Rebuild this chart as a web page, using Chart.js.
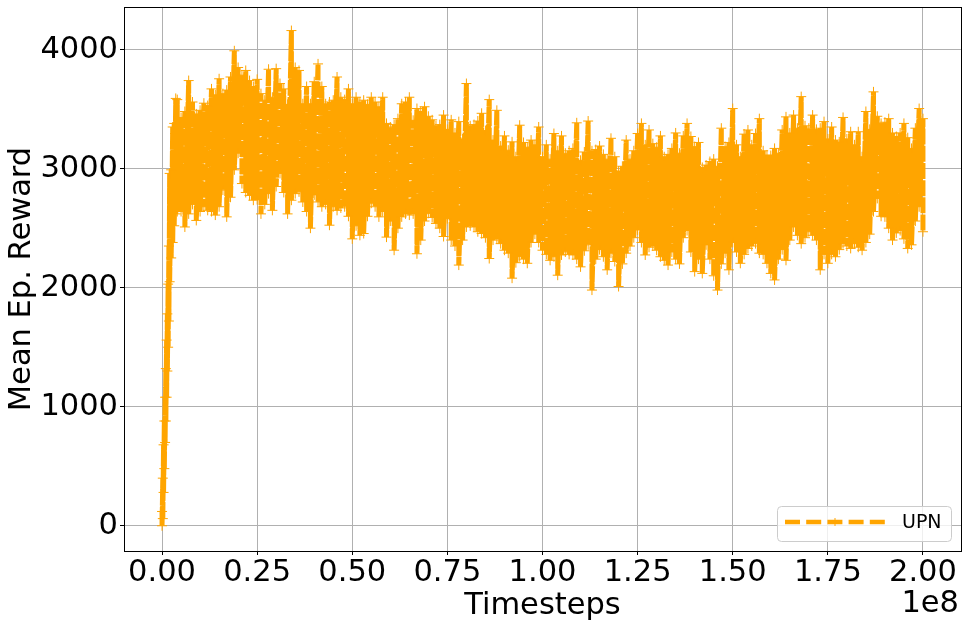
<!DOCTYPE html>
<html>
<head>
<meta charset="utf-8">
<title>UPN</title>
<script src="https://cdn.jsdelivr.net/npm/chart.js@4"></script>
<style>
body { margin: 0; background: #fff; }
canvas { display: block; }
</style>
</head>
<body>
<canvas id="mychart" width="967" height="627"></canvas>
<script>
// Axis ticks
var xTickValues = [0, 25000000, 50000000, 75000000, 100000000, 125000000, 150000000, 175000000, 200000000];
var xTickLabels = ["0.00", "0.25", "0.50", "0.75", "1.00", "1.25", "1.50", "1.75", "2.00"];
var yTickValues = [0, 1000, 2000, 3000, 4000];

// Timesteps in millions
var steps = [0, 0.2, 0.4, 0.6, 0.8, 1, 1.2, 1.4, 1.6, 1.8, 2, 2.4, 2.8, 3.2, 3.6, 4,
    5, 6, 7, 8, 9, 10, 11, 12, 13, 14,
    15, 16, 17, 18, 19, 20, 21, 22, 23, 24,
    25, 26, 27, 28, 29, 30, 31, 32, 33, 34,
    35, 36, 37, 38, 39, 40, 41, 42, 43, 44,
    45, 46, 47, 48, 49, 50, 51, 52, 53, 54,
    55, 56, 57, 58, 59, 60, 61, 62, 63, 64,
    65, 66, 67, 68, 69, 70, 71, 72, 73, 74,
    75, 76, 77, 78, 79, 80, 81, 82, 83, 84,
    85, 86, 87, 88, 89, 90, 91, 92, 93, 94,
    95, 96, 97, 98, 99, 100, 101, 102, 103, 104,
    105, 106, 107, 108, 109, 110, 111, 112, 113, 114,
    115, 116, 117, 118, 119, 120, 121, 122, 123, 124,
    125, 126, 127, 128, 129, 130, 131, 132, 133, 134,
    135, 136, 137, 138, 139, 140, 141, 142, 143, 144,
    145, 146, 147, 148, 149, 150, 151, 152, 153, 154,
    155, 156, 157, 158, 159, 160, 161, 162, 163, 164,
    165, 166, 167, 168, 169, 170, 171, 172, 173, 174,
    175, 176, 177, 178, 179, 180, 181, 182, 183, 184,
    185, 186, 187, 188, 189, 190, 191, 192, 193, 194,
    195, 196, 197, 198, 199, 200];

// Top of the noisy reward band at each step
var rewardHigh = [120, 400, 680, 880, 1080, 1320, 1560, 1780, 2030, 2350, 2960, 2990, 3350, 3380, 3590, 3580,
    3430, 3480, 3740, 3560, 3460, 3490, 3550, 3530, 3670, 3620,
    3755, 3630, 3660, 3770, 3990, 3850, 3785, 3825, 3740, 3690,
    3750, 3630, 3575, 3835, 3600, 3840, 3715, 3670, 3540, 4160,
    3850, 3825, 3545, 3690, 3545, 3730, 3880, 3690, 3545, 3560,
    3575, 3770, 3600, 3580, 3670, 3545, 3600, 3560, 3575, 3540,
    3600, 3560, 3520, 3600, 3380, 3350, 3370, 3420, 3545, 3560,
    3600, 3406, 3505, 3480, 3520, 3440, 3410, 3360, 3370, 3450,
    3330, 3410, 3300, 3395, 3250, 3715, 3360, 3370, 3400, 3465,
    3320, 3580, 3240, 3490, 3190, 3275, 3155, 3225, 3100, 3365,
    3220, 3180, 3240, 3200, 3350, 3100, 3200, 3080, 3295, 3150,
    3275, 3130, 3150, 3170, 3385, 3070, 3140, 3400, 3150, 3160,
    3190, 3120, 3080, 3255, 3100, 2980, 3020, 3240, 3080, 3150,
    3295, 3380, 3200, 3325, 3210, 3180, 3275, 3100, 3120, 3170,
    3300, 3130, 3275, 3380, 3270, 3185, 3220, 3010, 3030, 3060,
    3080, 3020, 3340, 3185, 3220, 3505, 3200, 3100, 3290, 3325,
    3200, 3295, 3420, 3150, 3115, 3110, 3170, 3130, 3325, 3435,
    3300, 3450, 3340, 3605, 3360, 3340, 3450, 3330, 3340, 3395,
    3250, 3350, 3240, 3225, 3430, 3250, 3310, 3200, 3310, 3100,
    3480, 3330, 3645, 3440, 3380, 3390, 3420, 3300, 3270, 3300,
    3380, 3260, 3170, 3340, 3505, 3420];

// Bottom of the band at each step
var rewardLow = [0, 60, 280, 480, 700, 880, 1080, 1300, 1500, 1720, 2050, 2250, 2380, 2520, 2620, 2640,
    2640, 2510, 2620, 2700, 2565, 2640, 2680, 2650, 2640, 2610,
    2680, 2820, 2595, 2760, 2990, 3130, 2875, 2800, 2775, 2735,
    2740, 2620, 2700, 2790, 2650, 2850, 2960, 2800, 2620, 2735,
    2790, 2805, 2720, 2640, 2500, 2780, 2720, 2680, 2700, 2525,
    2680, 2650, 2670, 2680, 2600, 2410, 2520, 2440, 2455, 2600,
    2710, 2680, 2595, 2640, 2425, 2560, 2315, 2500, 2595, 2620,
    2610, 2620, 2285, 2400, 2560, 2625, 2590, 2540, 2500, 2430,
    2580, 2400, 2350, 2190, 2400, 2510, 2520, 2510, 2470, 2455,
    2420, 2245, 2400, 2410, 2370, 2315, 2290, 2080, 2210, 2260,
    2240, 2205, 2380, 2450, 2380, 2315, 2280, 2230, 2260, 2105,
    2275, 2300, 2280, 2275, 2240, 2175, 2310, 2360, 1980, 2240,
    2320, 2260, 2150, 2290, 2220, 2010, 2200, 2290, 2350, 2420,
    2485, 2380, 2275, 2340, 2350, 2315, 2260, 2230, 2190, 2300,
    2240, 2200, 2420, 2480, 2300, 2135, 2240, 2120, 2360, 2240,
    2100, 1980, 2200, 2290, 2150, 2380, 2300, 2205, 2280, 2330,
    2350, 2370, 2290, 2280, 2205, 2120, 2065, 2240, 2320, 2230,
    2400, 2510, 2440, 2370, 2420, 2470, 2440, 2400, 2150, 2280,
    2205, 2280, 2260, 2320, 2370, 2350, 2330, 2370, 2340, 2315,
    2380, 2450, 2640, 2750, 2600, 2595, 2500, 2400, 2460, 2480,
    2410, 2330, 2360, 2560, 2680, 2470];

var seriesName = "UPN";
var orange = "#FFA500";
var fontName = "'DejaVu Sans'";

// The noisy curve goes down and up at every step
var points = [];
for (var i = 0; i < steps.length; i++) {
    points.push({ x: steps[i] * 1000000, y: rewardHigh[i] });
    points.push({ x: steps[i] * 1000000, y: rewardLow[i] });
}

var extras = {
    id: "extras",
    afterDraw: function (chart) {
        var c = chart.ctx;
        var a = chart.chartArea;
        c.save();

        c.strokeStyle = "#000";
        c.lineWidth = 1;
        c.strokeRect(a.left + 0.5, a.top + 0.5, a.right - a.left, a.bottom - a.top);

        // Legend box
        c.beginPath();
        c.roundRect(777.5, 506.5, 174, 35, 4);
        c.fillStyle = "rgba(255,255,255,0.8)";
        c.fill();
        c.strokeStyle = "#ccc";
        c.stroke();

        c.beginPath();
        c.setLineDash([15, 6.2]);
        c.moveTo(785, 522);
        c.lineTo(885, 522);
        c.strokeStyle = orange;
        c.lineWidth = 4.5;
        c.stroke();
        c.setLineDash([]);
        c.beginPath();
        c.moveTo(835, 518);
        c.lineTo(835, 526);
        c.lineWidth = 1;
        c.stroke();

        c.fillStyle = "#000";
        c.textBaseline = "middle";
        c.textAlign = "left";
        c.font = "19px " + fontName;
        c.fillText(seriesName, 902, 523);

        // Scale offset
        c.textAlign = "right";
        c.font = "30.5px " + fontName;
        c.fillText("1e8", 959, 604);
        c.restore();
    }
};

var ctx = document.getElementById("mychart");

var mychart = new Chart(ctx, {
    type: "line",
    data: {
        datasets: [
            {
                data: points,
                label: seriesName,
                borderColor: orange,
                borderWidth: 5,
                borderDash: [16, 1.2],
                fill: false,
                tension: 0,
                pointStyle: "cross",
                pointRadius: 5,
                pointBorderWidth: 1,
                pointBorderColor: orange
            }
        ]
    },
    options: {
        responsive: false,
        animation: false,
        layout: { padding: { top: 7, right: 5, left: 0, bottom: 0 } },
        plugins: { legend: { display: false }, tooltip: { enabled: false } },
        scales: {
            x: {
                type: "linear",
                min: -10000000,
                max: 210000000,
                afterBuildTicks: function (axis) {
                    axis.ticks = xTickValues.map(function (v) { return { value: v }; });
                },
                afterFit: function (axis) { axis.height = 76; },
                grid: { color: "#b0b0b0", lineWidth: 1, tickColor: "#000", tickLength: 4 },
                border: { color: "#000" },
                ticks: {
                    autoSkip: false,
                    maxRotation: 0,
                    color: "#000",
                    padding: 0,
                    font: { family: fontName, size: 30.5 },
                    callback: function (value) { return xTickLabels[xTickValues.indexOf(value)]; }
                },
                title: {
                    display: true,
                    text: "Timesteps",
                    color: "#000",
                    padding: { top: 0, bottom: 3 },
                    font: { family: fontName, size: 30.5 }
                }
            },
            y: {
                min: -212,
                max: 4358,
                afterBuildTicks: function (axis) {
                    axis.ticks = yTickValues.map(function (v) { return { value: v }; });
                },
                afterFit: function (axis) { axis.width = 124; axis.paddingTop = 0; },
                grid: { color: "#b0b0b0", lineWidth: 1, tickColor: "#000", tickLength: 4 },
                border: { color: "#000" },
                ticks: {
                    color: "#000",
                    padding: 2,
                    font: { family: fontName, size: 30.5 },
                    callback: function (value) { return String(value); }
                },
                title: {
                    display: true,
                    text: "Mean Ep. Reward",
                    color: "#000",
                    padding: { top: 4, bottom: 0 },
                    font: { family: fontName, size: 30.5 }
                }
            }
        }
    },
    plugins: [extras]
});
</script>
</body>
</html>
